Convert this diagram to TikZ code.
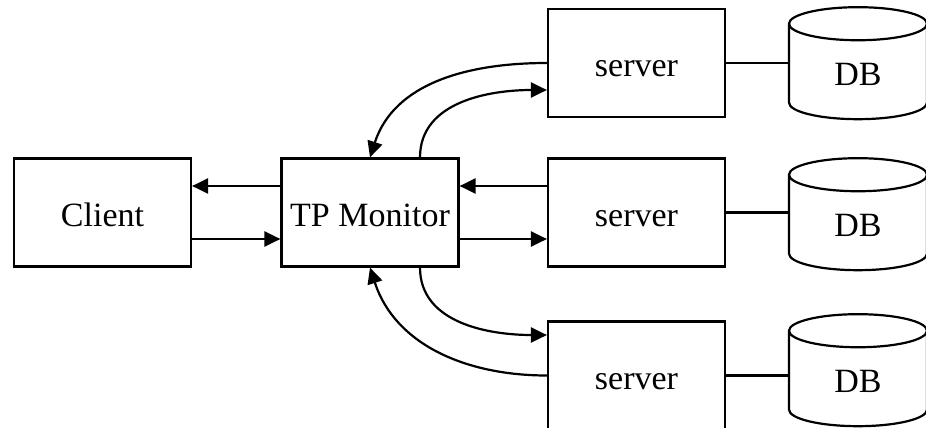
\documentclass[tikz,border=0pt]{standalone}
\usepackage{fontspec}
\setmainfont{Liberation Serif}
\usetikzlibrary{shapes.geometric,arrows.meta}
\tikzstyle{box}=[rectangle, draw, line width=2.2pt, minimum width=177pt, minimum height=108pt, inner sep=0pt, text height=32pt, text depth=5pt, font=\fontsize{34}{40}\selectfont]
\tikzstyle{db}=[cylinder, shape border rotate=90, draw, line width=2.2pt, aspect=0.7, minimum width=138pt, minimum height=112pt, inner sep=0pt, text height=32pt, text depth=5pt, font=\fontsize{34}{40}\selectfont]
\tikzstyle{arr}=[-{Triangle[length=16pt,width=15pt]}, line width=2.2pt]
\tikzstyle{link}=[line width=2.2pt]

\begin{document}
\begin{tikzpicture}[x=1pt, y=-1pt]

\clip (0,0) rectangle (926,428);

\node[box] (client) at (102.5,212.5) {Client};
\node[box] (tp) at (370,212.5) {TP Monitor};

\node[box] (s1) at (636.5,63) {server};
\node[box] (s2) at (636.5,212.5) {server};
\node[box] (s3) at (636.5,375.5) {server};

\node[db] (d1) at (858,72) {DB};
\node[db] (d2) at (858,223) {DB};
\node[db] (d3) at (858,379) {DB};

\draw[arr] ([yshift=26.5pt]tp.west) -- ([yshift=26.5pt]client.east);
\draw[arr] ([yshift=-26.5pt]client.east) -- ([yshift=-26.5pt]tp.west);
\draw[arr] ([yshift=26.5pt]s2.west) -- ([yshift=26.5pt]tp.east);
\draw[arr] ([yshift=-26.5pt]tp.east) -- ([yshift=-26.5pt]s2.west);

\draw[arr] (s1.west) to[out=180,in=72] (tp.north);
\draw[arr] ([xshift=50pt]tp.north) to[out=90,in=180] ([yshift=-27pt]s1.west);
\draw[arr] ([xshift=50pt]tp.south) to[out=-90,in=180] ([yshift=40.5pt]s3.west);
\draw[arr] (s3.west) to[out=180,in=-72] (tp.south);

\draw[link] (s1.east) -- (s1.east -| d1.west);
\draw[link] (s2.east) -- (s2.east -| d2.west);
\draw[link] (s3.east) -- (s3.east -| d3.west);

\end{tikzpicture}
\end{document}
